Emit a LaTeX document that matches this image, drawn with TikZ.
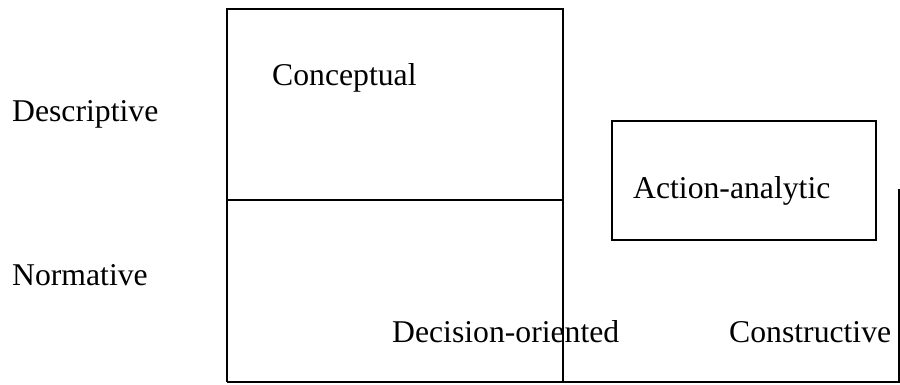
\documentclass[tikz,border=0pt]{standalone}
\usepackage{fontspec}
\setmainfont{Liberation Serif}
\begin{document}
\begin{tikzpicture}[x=1pt,y=-1pt,
  rule/.style={line width=1.8pt, black},
  cell/.style={draw, rule, rectangle, inner sep=0pt},
  lbl/.style={anchor=base west, inner sep=0pt, font=\fontsize{31.7}{38}\selectfont}]
  \useasboundingbox (0,0) rectangle (900,385);

  % left column: conceptual cell over decision-oriented cell
  \coordinate (tl) at (227,9);
  \coordinate (tr) at (563,9);
  \coordinate (ml) at (227,200);
  \coordinate (mr) at (563,200);
  \coordinate (bl) at (227,382);
  \coordinate (bm) at (563,382);
  \coordinate (br) at (899,382);
  \coordinate (rt) at (899,189);
  \draw[rule] (bl) -- (tl) -- (tr) -- (bm);
  \draw[rule] (ml) -- (mr);
  \draw[rule] (bl) -- (br) -- (rt);

  % action-analytic box
  \node[cell, minimum width=264pt, minimum height=119pt] (act) at (744,180.5) {};

  % row labels
  \node[lbl] (desc) at (12,122) {Descriptive};
  \node[lbl] (norm) at (12,285) {Normative};

  % cell labels
  \node[lbl] (conc) at (272,86) {Conceptual};
  \node[lbl] (actl) at (633,198) {Action-analytic};
  \node[lbl] (deci) at (392,342) {Decision-oriented};
  \node[lbl] (cons) at (729,342) {Constructive};
\end{tikzpicture}
\end{document}
